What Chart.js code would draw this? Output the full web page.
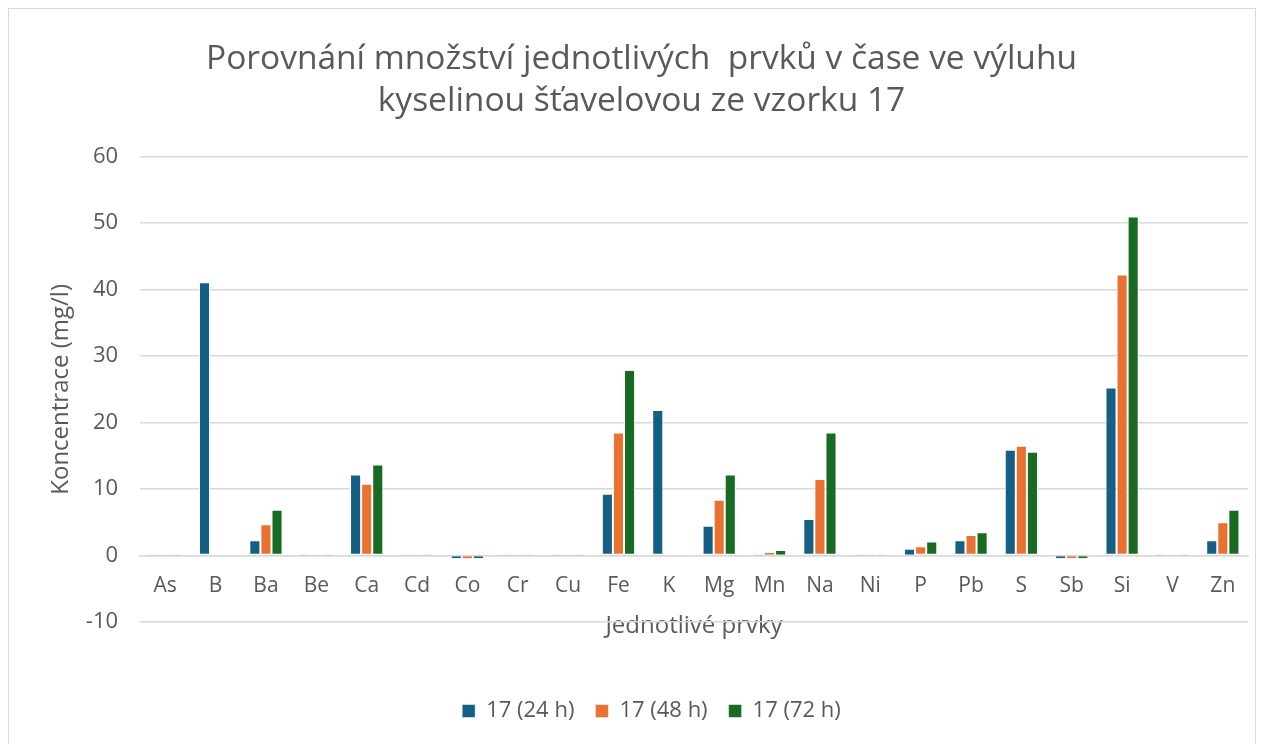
<!DOCTYPE html>
<html><head><meta charset="utf-8">
<script src="https://cdn.jsdelivr.net/npm/chart.js@4.4.1/dist/chart.umd.min.js"></script>
<style>html,body{margin:0;padding:0;background:#fff}#wrap{width:1264px;height:744px;position:relative}</style>
</head><body><div id="wrap"><canvas id="c" width="1264" height="744"></canvas></div>
<script>
const categories = ["As","B","Ba","Be","Ca","Cd","Co","Cr","Cu","Fe","K","Mg","Mn","Na","Ni","P","Pb","S","Sb","Si","V","Zn"];
const s24 = [0.03,41.1,2.3,0.03,12.2,0.03,-0.4,0.03,0.03,9.3,21.9,4.5,0.05,5.5,0.03,0.9,2.3,15.9,-0.4,25.3,0.03,2.3];
const s48 = [0.03,0,4.7,0.03,10.8,0.03,-0.4,0.03,0.03,18.5,0,8.4,0.4,11.5,0.03,1.4,3.1,16.5,-0.4,42.3,0.03,5.0];
const s72 = [0.03,0,6.9,0.03,13.7,0.03,-0.4,0.03,0.03,27.9,0,12.2,0.7,18.5,0.03,2.1,3.5,15.6,-0.4,51.0,0.03,6.9];
const seriesNames = ["17 (24 h)","17 (48 h)","17 (72 h)"];
const yTicks = [-10,0,10,20,30,40,50,60];
const titleLines = ["Porovnání množství jednotlivých  prvků v čase ve výluhu","kyselinou šťavelovou ze vzorku 17"];

const FONT = "'Open Sans'";
const TXT = "#595959";
const frame = {id:'frame',afterDraw(ch){const c=ch.ctx;c.save();c.strokeStyle='#d9d9d9';c.lineWidth=1;c.strokeRect(8.5,8.5,1247,760);c.restore();}};
const shift = {id:'shift',afterLayout(ch){
  if(ch.legend){ch.legend.left+=4;ch.legend.right+=4;}
  if(ch.titleBlock){ch.titleBlock.left-=6;ch.titleBlock.right-=6;}
}};
const bw = c => (c.raw !== undefined && Math.abs(c.raw) < 1) ? {left:1,right:1,top:0,bottom:0} : 1;
new Chart(document.getElementById('c'),{
  type:'bar',
  data:{labels:categories,datasets:[
    {label:seriesNames[0],data:s24,backgroundColor:'#156082'},
    {label:seriesNames[1],data:s48,backgroundColor:'#E97132'},
    {label:seriesNames[2],data:s72,backgroundColor:'#196B24'}
  ].map(d=>Object.assign(d,{borderColor:'#ffffff',borderWidth:bw,borderSkipped:false,categoryPercentage:0.66,barPercentage:1}))},
  options:{
    responsive:false,animation:false,
    layout:{padding:{left:47,right:16,top:29,bottom:12}},
    plugins:{
      title:{display:true,text:titleLines,color:TXT,font:{family:FONT,size:33.5,weight:'normal',lineHeight:1.25},padding:{top:10,bottom:34}},
      legend:{position:'bottom',labels:{color:TXT,font:{family:FONT,size:22},boxWidth:13,boxHeight:13,padding:21}},
      tooltip:{enabled:false}
    },
    scales:{
      x:{position:{y:0},grid:{display:false},border:{color:'#d9d9d9',width:1.5},
        ticks:{color:TXT,font:{family:FONT,size:21},padding:10,maxRotation:0},
        title:{display:true,text:'Jednotlivé prvky',color:TXT,font:{family:FONT,size:24},padding:{top:3}}},
      xpad:{type:'category',position:'bottom',display:true,grid:{display:false},border:{display:false},ticks:{display:false},
        afterFit(ax){ax.height=57;}},
      y:{min:-10,max:60,afterBuildTicks(ax){ax.ticks=yTicks.map(v=>({value:v}));},
        afterFit(ax){ax.width-=12;},
        grid:{color:'#d9d9d9',lineWidth:1.5,drawTicks:false},border:{display:false},
        ticks:{color:TXT,font:{family:FONT,size:22},padding:22},
        title:{display:true,text:'Koncentrace (mg/l)',color:TXT,font:{family:FONT,size:24},padding:{top:0,bottom:0}}}
    }
  },
  plugins:[frame,shift]
});
</script></body></html>
